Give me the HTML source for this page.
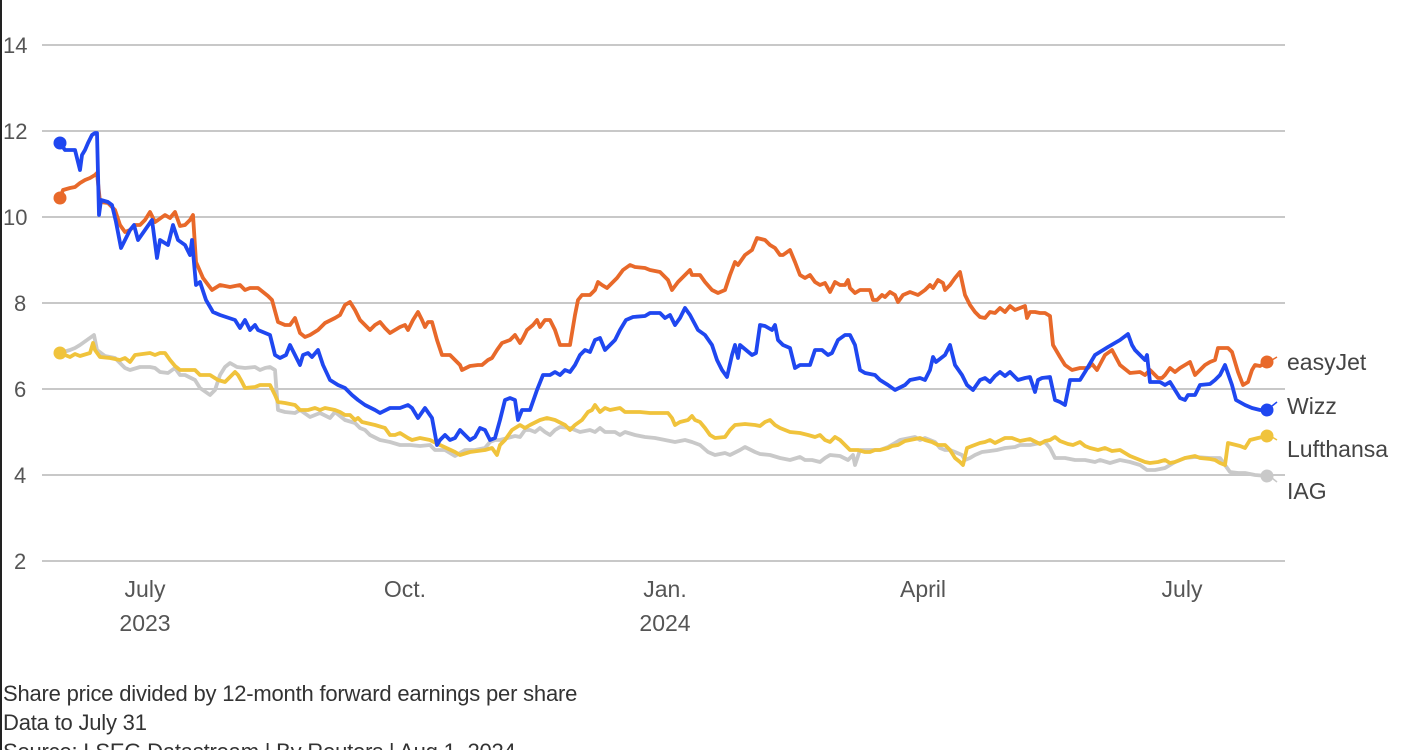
<!DOCTYPE html>
<html><head><meta charset="utf-8"><style>
html,body{margin:0;padding:0;background:#fff;width:1416px;height:750px;overflow:hidden;position:relative;font-family:"Liberation Sans",sans-serif}
.b{position:absolute;left:0;top:0;width:2px;height:750px;background:#222}
.t{position:absolute;color:#333;font-size:22px;white-space:nowrap;letter-spacing:-0.2px}
</style></head><body>
<div class="b"></div>
<svg width="1416" height="750" style="position:absolute;left:0;top:0" font-family="Liberation Sans, sans-serif">
<g stroke="#c8c8c8" stroke-width="2">
<line x1="42" x2="1285" y1="45" y2="45"/><line x1="42" x2="1285" y1="131" y2="131"/><line x1="42" x2="1285" y1="217" y2="217"/><line x1="42" x2="1285" y1="303" y2="303"/><line x1="42" x2="1285" y1="389" y2="389"/><line x1="42" x2="1285" y1="475" y2="475"/><line x1="42" x2="1285" y1="561" y2="561"/>
</g>
<g fill="#555" font-size="22">
<text x="3" y="53">14</text><text x="3" y="139">12</text><text x="3" y="225">10</text><text x="14" y="311">8</text><text x="14" y="397">6</text><text x="14" y="483">4</text><text x="14" y="569">2</text>
</g>
<g fill="#555" font-size="23" text-anchor="middle">
<text x="145" y="597">July</text><text x="145" y="631">2023</text>
<text x="405" y="597">Oct.</text>
<text x="665" y="597">Jan.</text><text x="665" y="631">2024</text>
<text x="923" y="597">April</text>
<text x="1182" y="597">July</text>
</g>
<g fill="none" stroke-width="3.8" stroke-linejoin="round">
<polyline stroke="#c9c9c9" points="60,353 70,350 75,348 80,345 87,340 94,335 97,350 105,356 115,358 120,363 125,368 130,370 140,367 150,367 155,368 160,372 168,373 175,368 180,375 185,375 195,380 200,388 210,395 215,390 220,375 225,367 230,363 237,367 245,368 255,367 260,370 265,368 270,367 275,370 278,410 285,412 295,413 300,410 310,417 320,413 330,418 335,412 345,420 355,423 360,428 365,430 370,435 380,440 390,442 400,445 410,445 420,446 430,445 435,450 445,450 455,456 465,450 475,450 485,448 490,442 495,440 500,440 515,436 520,437 525,430 530,430 535,432 540,428 545,432 550,435 555,430 560,427 570,428 580,432 590,430 595,432 600,428 605,432 615,432 620,435 625,432 635,435 645,437 655,438 665,440 675,442 685,440 692,442 700,445 708,452 715,455 725,453 730,455 740,450 745,447 755,452 760,454 770,455 780,458 790,460 800,457 805,460 812,460 820,462 825,458 830,455 840,456 848,460 853,455 855,465 860,450 870,450 880,450 888,447 895,443 900,440 910,438 915,437 920,440 925,438 935,442 940,448 945,450 950,450 955,452 962,455 965,460 970,458 975,455 982,452 990,451 997,450 1005,448 1015,447 1020,445 1030,445 1040,443 1045,442 1050,448 1055,458 1065,458 1075,460 1085,460 1095,462 1100,460 1110,463 1120,460 1130,462 1140,465 1147,470 1155,470 1165,468 1175,462 1185,458 1195,457 1210,458 1220,458 1225,465 1230,472 1238,473 1245,473 1255,475 1267,476"/>
<polyline stroke="#f0c33c" points="60,353 65,355 70,357 75,354 80,356 90,353 93,343 95,350 100,357 110,358 120,360 125,358 130,362 135,355 150,353 155,355 160,353 165,353 170,360 175,366 180,370 185,370 195,370 200,375 210,375 218,380 225,382 230,377 235,372 238,375 242,382 245,388 255,387 260,385 270,385 275,395 278,402 285,403 295,405 300,410 308,410 315,408 320,410 325,408 335,410 340,412 345,415 350,415 355,420 358,418 362,422 375,425 385,428 390,435 395,435 400,433 408,438 412,440 420,438 430,440 440,445 455,452 460,455 470,452 485,450 492,448 497,455 500,445 505,440 512,430 520,425 525,428 530,425 540,420 547,418 555,420 565,425 570,430 575,425 582,420 588,412 592,410 595,405 600,412 605,408 610,410 620,408 625,412 630,412 640,412 650,413 660,413 668,413 672,418 675,425 680,422 688,420 692,416 695,420 700,422 705,428 710,435 715,438 725,437 730,430 735,425 745,424 755,425 760,426 765,422 770,420 775,425 780,428 785,430 790,432 800,433 808,435 815,437 820,435 825,440 830,442 835,437 840,440 845,445 850,450 858,450 865,452 870,452 875,450 880,450 888,448 892,446 898,445 905,441 920,438 925,440 932,442 938,445 945,445 950,450 955,458 960,462 963,465 967,448 972,446 980,443 985,442 990,440 995,443 1005,438 1012,438 1020,441 1030,439 1040,444 1045,441 1050,440 1055,437 1060,441 1068,444 1073,445 1080,442 1085,446 1090,448 1098,450 1105,448 1112,451 1120,450 1125,453 1130,456 1135,458 1140,460 1145,462 1150,463 1158,462 1165,460 1170,463 1175,462 1180,460 1185,458 1190,457 1195,456 1200,458 1210,459 1215,460 1220,463 1225,465 1228,443 1240,446 1245,448 1250,440 1258,438 1267,436"/>
<polyline stroke="#e8692a" points="60,198 63,190 70,188 75,187 80,183 85,180 90,178 95,175 97,173 100,202 108,203 115,210 120,225 125,232 130,230 135,225 140,225 145,220 150,212 155,222 158,220 165,215 170,218 175,212 180,226 185,225 190,220 193,215 196,262 203,278 212,290 220,285 230,287 240,285 245,290 250,288 258,288 268,296 272,300 278,322 285,325 290,325 295,318 300,333 305,337 310,335 318,330 325,323 335,318 340,315 345,305 350,302 355,310 360,320 365,325 370,330 375,325 380,322 385,328 390,333 395,330 400,327 405,325 408,330 413,320 418,312 422,320 425,327 428,322 432,322 437,340 442,355 450,355 455,360 460,365 462,370 470,366 478,365 482,365 488,360 492,358 497,350 502,343 510,340 515,335 520,343 523,338 527,330 533,325 537,320 540,327 545,320 550,320 555,330 560,345 565,345 570,345 575,315 578,300 582,295 590,295 595,290 598,282 602,285 607,288 612,283 617,278 623,270 630,265 635,267 645,268 650,270 660,272 668,280 672,290 678,282 685,275 690,270 692,275 700,275 705,282 712,290 718,293 725,290 730,275 735,262 738,265 745,255 752,250 757,238 765,240 770,245 775,248 780,255 783,255 790,250 795,262 800,275 805,278 810,275 815,282 820,285 825,283 830,292 835,282 840,285 845,285 848,280 850,288 855,293 860,290 870,290 873,300 877,300 882,295 885,297 890,292 895,295 898,302 903,295 910,292 918,295 925,290 930,285 933,288 938,280 943,283 945,290 950,285 955,278 960,272 965,295 970,305 975,312 980,317 985,318 990,312 995,313 1000,308 1005,312 1010,306 1015,310 1020,308 1025,306 1027,318 1030,312 1035,312 1040,313 1045,313 1050,316 1053,345 1060,357 1065,365 1072,370 1080,368 1088,368 1092,364 1097,370 1105,355 1112,350 1120,365 1130,373 1140,372 1145,375 1150,370 1158,378 1162,378 1165,375 1170,368 1175,372 1180,368 1185,365 1190,362 1195,375 1200,370 1205,365 1210,362 1215,360 1218,348 1228,348 1232,352 1238,372 1243,385 1248,382 1252,370 1255,365 1260,366 1267,362"/>
<polyline stroke="#1f47f0" points="60,143 65,150 75,150 80,170 82,155 85,150 88,143 92,135 95,133 97,133 99,215 101,200 108,202 112,205 116,222 121,248 125,240 130,230 134,225 138,240 145,230 152,220 157,258 160,240 168,245 173,225 178,240 185,245 190,255 192,240 196,285 200,282 206,300 213,312 220,315 235,320 240,328 245,320 250,330 255,325 258,330 270,335 275,355 280,358 286,355 290,345 295,355 300,365 303,355 308,353 312,357 318,350 323,365 330,380 338,385 345,388 352,395 358,400 365,405 375,410 380,413 390,408 400,408 408,405 412,408 418,418 425,408 432,418 437,445 440,440 445,435 450,440 455,438 460,430 465,435 470,440 475,437 480,428 485,430 490,440 495,438 500,420 505,400 510,398 515,400 518,420 522,410 530,410 537,390 543,375 550,375 555,372 560,375 565,370 570,372 575,365 580,355 585,350 590,352 595,340 600,338 605,350 610,345 615,340 620,330 626,320 633,317 645,316 650,313 660,313 665,318 670,315 675,325 680,318 685,308 690,315 698,330 705,335 712,345 717,360 722,370 727,377 732,355 735,345 738,358 740,345 746,350 752,355 756,353 760,325 765,326 772,330 775,325 778,340 783,345 790,348 795,368 800,365 810,365 815,350 822,350 828,355 832,353 838,340 845,335 850,335 855,345 860,370 865,373 875,375 880,380 888,385 895,390 905,385 910,380 920,378 925,380 930,370 933,357 936,362 945,355 950,345 955,365 962,375 967,385 973,390 980,380 985,378 990,382 995,376 1000,372 1005,376 1010,372 1018,380 1025,378 1030,377 1035,392 1038,380 1042,378 1050,377 1055,400 1060,402 1065,405 1068,390 1070,380 1080,380 1085,372 1095,355 1108,347 1120,340 1128,334 1132,345 1135,350 1145,360 1147,355 1150,382 1160,382 1165,385 1170,382 1175,390 1180,398 1185,400 1188,395 1195,395 1200,385 1210,384 1215,380 1220,375 1225,365 1232,385 1236,400 1245,405 1252,408 1260,410 1267,410"/>
</g>
<g stroke-width="1.5">
<line x1="1272" y1="360" x2="1277" y2="357" stroke="#e8692a"/>
<line x1="1272" y1="406" x2="1277" y2="402" stroke="#1f47f0"/>
<line x1="1272" y1="437" x2="1277" y2="440" stroke="#f0c33c"/>
<line x1="1272" y1="478" x2="1277" y2="482" stroke="#c9c9c9"/>
</g>
<circle cx="60" cy="143" r="6.5" fill="#1f47f0"/><circle cx="60" cy="198" r="6.5" fill="#e8692a"/><circle cx="60" cy="353" r="6.5" fill="#f0c33c"/>
<circle cx="1267" cy="362" r="6.5" fill="#e8692a"/><circle cx="1267" cy="410" r="6.5" fill="#1f47f0"/><circle cx="1267" cy="436" r="6.5" fill="#f0c33c"/><circle cx="1267" cy="476" r="6.5" fill="#c9c9c9"/>
<g fill="#444" font-size="23">
<text x="1287" y="370">easyJet</text><text x="1287" y="414">Wizz</text><text x="1287" y="457">Lufthansa</text><text x="1287" y="499">IAG</text>
</g>
</svg>
<div class="t" style="left:3px;top:681px">Share price divided by 12-month forward earnings per share</div>
<div class="t" style="left:3px;top:710px">Data to July 31</div>
<div class="t" style="left:3px;top:739px">Source: LSEG Datastream | By Reuters | Aug 1, 2024</div>
</body></html>
